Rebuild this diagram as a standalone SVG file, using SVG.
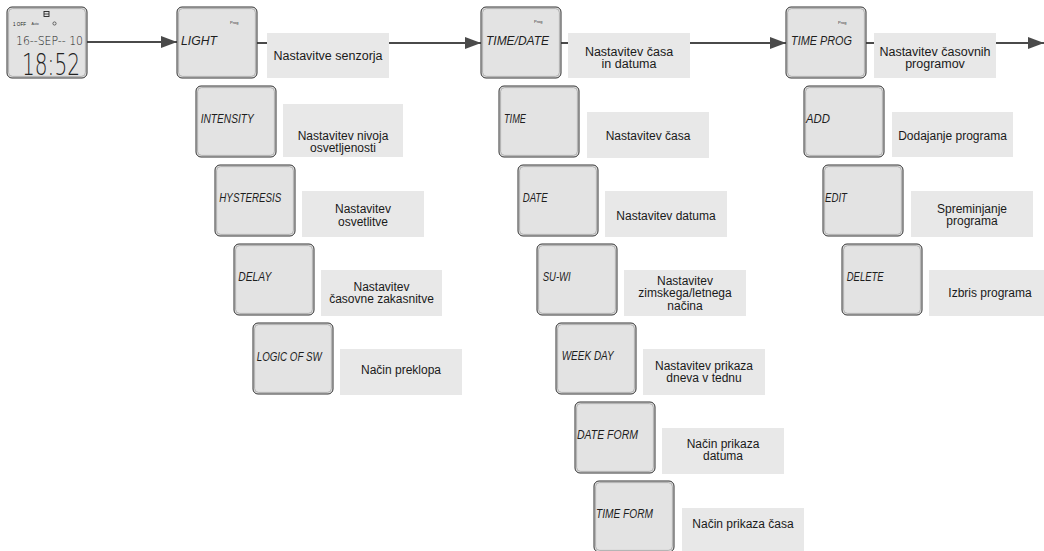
<svg xmlns="http://www.w3.org/2000/svg" width="1044" height="551" viewBox="0 0 1044 551">
<style>
.bo{fill:#e3e3e3;stroke:#333;stroke-width:1}
.bi{fill:none;stroke:#9a9a9a;stroke-width:0.7}
.lb{fill:#e8e8e8}
.lcd{font-family:"Liberation Sans",sans-serif;font-style:italic;font-size:13px;fill:#1e1e1e}
.prog{font-family:"Liberation Sans",sans-serif;font-size:4px;fill:#333}
.tx{font-family:"Liberation Sans",sans-serif;font-size:12px;fill:#1a1a1a;text-anchor:middle}
.tt{font-family:"Liberation Sans",sans-serif;font-size:12.5px;fill:#1a1a1a;text-anchor:middle}
.thin{font-family:"DejaVu Sans",sans-serif;font-weight:200;fill:#222}
.conn{stroke:#4a4a4a;stroke-width:2;fill:none}
</style>
<defs>
<marker id="ah" markerUnits="userSpaceOnUse" markerWidth="16" markerHeight="12" viewBox="0 0 16 12" refX="16" refY="6" orient="auto">
<path d="M0,0 L16,6 L0,12 z" fill="#4a4a4a"/>
</marker>
</defs>
<rect width="1044" height="551" fill="#fff"/>

<g id="connectors">
<line class="conn" x1="87" y1="42" x2="177" y2="42" marker-end="url(#ah)"/>
<line class="conn" x1="257" y1="43" x2="267" y2="43"/>
<line class="conn" x1="389" y1="43" x2="481" y2="43" marker-end="url(#ah)"/>
<line class="conn" x1="561" y1="43" x2="568" y2="43"/>
<line class="conn" x1="690" y1="43" x2="786" y2="43" marker-end="url(#ah)"/>
<line class="conn" x1="866" y1="43" x2="874" y2="43"/>
<line class="conn" x1="996" y1="43" x2="1044" y2="43" marker-end="url(#ah)"/>
</g>

<g id="home">
<rect class="bo" x="7" y="7" width="80" height="71" rx="5"/>
<rect class="bi" x="8.6" y="8.6" width="76.8" height="67.8" rx="4"/>
<rect x="44" y="11.5" width="5" height="5" fill="none" stroke="#222" stroke-width="0.9"/>
<line x1="44" y1="14" x2="49" y2="14" stroke="#222" stroke-width="0.8"/>
<text x="13" y="25.5" font-family="Liberation Sans, sans-serif" font-size="5.5" fill="#222" textLength="13" lengthAdjust="spacingAndGlyphs">1 OFF</text>
<text x="31.5" y="24.5" font-family="Liberation Sans, sans-serif" font-size="3.5" fill="#333">Auto</text>
<circle cx="54.5" cy="23.5" r="1.6" fill="none" stroke="#333" stroke-width="0.7"/>
<text class="thin" x="16" y="44.5" font-size="11.5" textLength="67" lengthAdjust="spacingAndGlyphs">16--SEP-- 10</text>
<text class="thin" x="22" y="75" font-size="31" textLength="58" lengthAdjust="spacingAndGlyphs">18:52</text>
</g>

<g id="light">
<rect class="bo" x="177" y="7" width="80" height="71" rx="5"/>
<rect class="bi" x="178.6" y="8.6" width="76.8" height="67.8" rx="4"/>
<text class="prog" x="230" y="24">Prog</text>
<text class="lcd" x="181" y="45" textLength="36" lengthAdjust="spacingAndGlyphs">LIGHT</text>
<rect class="lb" x="267" y="33" width="122" height="45"/>
<text class="tt" x="328" y="60">Nastavitve senzorja</text>
</g>

<g id="intensity">
<rect class="bo" x="196" y="86" width="80" height="71" rx="5"/>
<rect class="bi" x="197.6" y="87.6" width="76.8" height="67.8" rx="4"/>
<text class="lcd" x="200.7" y="123" textLength="53" lengthAdjust="spacingAndGlyphs">INTENSITY</text>
<rect class="lb" x="283" y="104" width="120" height="53"/>
<text class="tx" x="343" y="140">Nastavitev nivoja</text>
<text class="tx" x="343" y="152">osvetljenosti</text>
</g>

<g id="hysteresis">
<rect class="bo" x="215" y="165" width="80" height="71" rx="5"/>
<rect class="bi" x="216.6" y="166.6" width="76.8" height="67.8" rx="4"/>
<text class="lcd" x="219.3" y="202" textLength="62" lengthAdjust="spacingAndGlyphs">HYSTERESIS</text>
<rect class="lb" x="302" y="191" width="122" height="46"/>
<text class="tx" x="363" y="213">Nastavitev</text>
<text class="tx" x="363" y="225.5">osvetlitve</text>
</g>

<g id="delay">
<rect class="bo" x="234" y="244" width="80" height="71" rx="5"/>
<rect class="bi" x="235.6" y="245.6" width="76.8" height="67.8" rx="4"/>
<text class="lcd" x="238.3" y="281" textLength="33" lengthAdjust="spacingAndGlyphs">DELAY</text>
<rect class="lb" x="321" y="270" width="121" height="46"/>
<text class="tx" x="381.5" y="291">Nastavitev</text>
<text class="tx" x="381.5" y="303">časovne zakasnitve</text>
</g>

<g id="logic">
<rect class="bo" x="253" y="323" width="80" height="71" rx="5"/>
<rect class="bi" x="254.6" y="324.6" width="76.8" height="67.8" rx="4"/>
<text class="lcd" x="256.7" y="361" textLength="65" lengthAdjust="spacingAndGlyphs">LOGIC OF SW</text>
<rect class="lb" x="340" y="349" width="122" height="46"/>
<text class="tx" x="401" y="374">Način preklopa</text>
</g>

<g id="timedate">
<rect class="bo" x="481" y="7" width="80" height="71" rx="5"/>
<rect class="bi" x="482.6" y="8.6" width="76.8" height="67.8" rx="4"/>
<text class="prog" x="534" y="23">Prog</text>
<text class="lcd" x="486" y="45" textLength="63" lengthAdjust="spacingAndGlyphs">TIME/DATE</text>
<rect class="lb" x="568" y="33" width="122" height="45"/>
<text class="tt" x="629" y="56">Nastavitev časa</text>
<text class="tt" x="629" y="68">in datuma</text>
</g>

<g id="time">
<rect class="bo" x="499" y="86" width="80" height="71" rx="5"/>
<rect class="bi" x="500.6" y="87.6" width="76.8" height="67.8" rx="4"/>
<text class="lcd" x="504" y="123" textLength="22" lengthAdjust="spacingAndGlyphs">TIME</text>
<rect class="lb" x="587" y="112" width="122" height="46"/>
<text class="tx" x="648" y="140">Nastavitev časa</text>
</g>

<g id="date">
<rect class="bo" x="518" y="165" width="80" height="71" rx="5"/>
<rect class="bi" x="519.6" y="166.6" width="76.8" height="67.8" rx="4"/>
<text class="lcd" x="522.7" y="202" textLength="25" lengthAdjust="spacingAndGlyphs">DATE</text>
<rect class="lb" x="605" y="191" width="122" height="46"/>
<text class="tx" x="666" y="220">Nastavitev datuma</text>
</g>

<g id="suwi">
<rect class="bo" x="537" y="244" width="80" height="71" rx="5"/>
<rect class="bi" x="538.6" y="245.6" width="76.8" height="67.8" rx="4"/>
<text class="lcd" x="542.7" y="281" textLength="28" lengthAdjust="spacingAndGlyphs">SU-WI</text>
<rect class="lb" x="624" y="270" width="122" height="46"/>
<text class="tx" x="685" y="285">Nastavitev</text>
<text class="tx" x="685" y="297">zimskega/letnega</text>
<text class="tx" x="685" y="309.5">načina</text>
</g>

<g id="weekday">
<rect class="bo" x="556" y="323" width="80" height="71" rx="5"/>
<rect class="bi" x="557.6" y="324.6" width="76.8" height="67.8" rx="4"/>
<text class="lcd" x="561.7" y="360" textLength="52" lengthAdjust="spacingAndGlyphs">WEEK DAY</text>
<rect class="lb" x="643" y="349" width="122" height="46"/>
<text class="tx" x="704" y="370">Nastavitev prikaza</text>
<text class="tx" x="704" y="382">dneva v tednu</text>
</g>

<g id="dateform">
<rect class="bo" x="575" y="402" width="80" height="71" rx="5"/>
<rect class="bi" x="576.6" y="403.6" width="76.8" height="67.8" rx="4"/>
<text class="lcd" x="577" y="439" textLength="61" lengthAdjust="spacingAndGlyphs">DATE FORM</text>
<rect class="lb" x="662" y="428" width="122" height="46"/>
<text class="tx" x="723" y="448">Način prikaza</text>
<text class="tx" x="723" y="460">datuma</text>
</g>

<g id="timeform">
<rect class="bo" x="594" y="481" width="80" height="71" rx="5"/>
<rect class="bi" x="595.6" y="482.6" width="76.8" height="67.8" rx="4"/>
<text class="lcd" x="596" y="518" textLength="57" lengthAdjust="spacingAndGlyphs">TIME FORM</text>
<rect class="lb" x="682" y="508" width="122" height="46"/>
<text class="tx" x="743" y="528">Način prikaza časa</text>
</g>

<g id="timeprog">
<rect class="bo" x="786" y="7" width="80" height="71" rx="5"/>
<rect class="bi" x="787.6" y="8.6" width="76.8" height="67.8" rx="4"/>
<text class="prog" x="838" y="24">Prog</text>
<text class="lcd" x="791" y="45" textLength="61" lengthAdjust="spacingAndGlyphs">TIME PROG</text>
<rect class="lb" x="874" y="33" width="122" height="45"/>
<text class="tt" x="935" y="56">Nastavitev časovnih</text>
<text class="tt" x="935" y="68">programov</text>
</g>

<g id="add">
<rect class="bo" x="804" y="86" width="80" height="71" rx="5"/>
<rect class="bi" x="805.6" y="87.6" width="76.8" height="67.8" rx="4"/>
<text class="lcd" x="806" y="123" textLength="24" lengthAdjust="spacingAndGlyphs">ADD</text>
<rect class="lb" x="892" y="112" width="121" height="45"/>
<text class="tx" x="952.5" y="140">Dodajanje programa</text>
</g>

<g id="edit">
<rect class="bo" x="823" y="165" width="80" height="71" rx="5"/>
<rect class="bi" x="824.6" y="166.6" width="76.8" height="67.8" rx="4"/>
<text class="lcd" x="825" y="202" textLength="22" lengthAdjust="spacingAndGlyphs">EDIT</text>
<rect class="lb" x="911" y="191" width="122" height="46"/>
<text class="tx" x="972" y="213">Spreminjanje</text>
<text class="tx" x="972" y="225">programa</text>
</g>

<g id="delete">
<rect class="bo" x="842" y="244" width="80" height="71" rx="5"/>
<rect class="bi" x="843.6" y="245.6" width="76.8" height="67.8" rx="4"/>
<text class="lcd" x="846.7" y="281" textLength="37" lengthAdjust="spacingAndGlyphs">DELETE</text>
<rect class="lb" x="929" y="270" width="122" height="46"/>
<text class="tx" x="990" y="297">Izbris programa</text>
</g>
</svg>
